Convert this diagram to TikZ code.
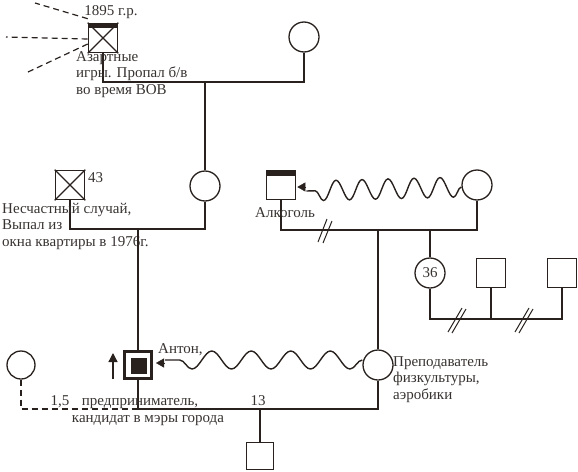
\documentclass[tikz,border=0pt]{standalone}
\usepackage{fontspec}
\setmainfont{Liberation Serif}
\usetikzlibrary{arrows.meta,decorations.pathmorphing,calc}
\definecolor{ln}{RGB}{40,33,30}
\definecolor{tx}{RGB}{55,50,48}
\begin{document}
\begin{tikzpicture}[x=1pt,y=-1pt,
  every node/.style={font=\fontsize{15}{16.5}\selectfont, text=tx},
  male/.style={draw=ln, line width=1.6pt, minimum size=29pt, inner sep=0pt, shape=rectangle},
  female/.style={draw=ln, line width=1.3pt, minimum size=30pt, inner sep=0pt, shape=circle},
  rel/.style={draw=ln, line width=1.3pt},
  dsh/.style={draw=ln, line width=1.2pt, dash pattern=on 6pt off 4pt},
  wave/.style={draw=ln, line width=1.4pt, decorate},
  lbl/.style={inner sep=0pt, align=left}
]
\useasboundingbox (0,0) rectangle (578,471);

% generation 1
\node[male] (g1) at (103,38) {};
\fill[ln] (g1.north west) rectangle ([yshift=-5pt]g1.north east);
\draw[ln, line width=1.3pt] (g1.north west) -- (g1.south east) (g1.north east) -- (g1.south west);
\node[female] (g2) at (304,37) {};
\coordinate (m1) at (205,82);
\draw[rel] (g1.south) |- (m1) -| (g2.south);

\draw[dsh] ([yshift=4pt]g1.north west) -- (35,3);
\draw[dsh] ([yshift=-1pt]g1.west) -- (6,37);
\draw[dsh] ([yshift=-6pt]g1.west) -- (28,72);

\node[lbl, anchor=base] at (111,15) {1895 г.р.};
\node[lbl, anchor=north west] (t1) at (76,51) {Азартные\\игры. Пропал б/в\\во время ВОВ};

% generation 2 left
\node[male] (u) at (70,185) {};
\draw[ln, line width=1.3pt] (u.north west) -- (u.south east) (u.north east) -- (u.south west);
\node[female] (f) at (205,186) {};
\draw[rel] (m1) -- (f.north);
\coordinate (m2) at (138,229);
\draw[rel] (u.south) |- (m2) -| (f.south);
\node[lbl, anchor=west] at (88,178) {43};
\node[lbl, anchor=north west] at (2,203) {Несчастный случай,\\Выпал из\\окна квартиры в 1976г.};

% generation 2 right
\node[male] (a) at (281,185) {};
\fill[ln] (a.north west) rectangle ([yshift=-6pt]a.north east);
\node[female] (w) at (477,185) {};
\coordinate (m3) at (378,230);
\coordinate (m4) at (430,230);
\draw[rel] (a.south) |- (m3) -| (w.south);
\draw[ln, line width=1pt] (318,242) -- (327,219) (323,243) -- (332,221);
\coordinate (wa) at ([xshift=10pt,yshift=-2pt]a.east);
\draw[wave, decoration={snake, amplitude=10pt, segment length=26pt}] ([yshift=-2pt]w.west) -- ([yshift=-4pt]wa);
\draw[ln, -{Triangle[length=8pt,width=9pt]}] (wa) -- ([xshift=1pt,yshift=-2pt]a.east);
\node[lbl, anchor=base west] at (255,217) {Алкоголь};

% 36 and children
\node[female] (d) at (430,273) {36};
\draw[rel] (m4) -- (d.north);
\node[male] (s1) at (491,273) {};
\node[male] (s2) at (562,273) {};
\coordinate (sb) at (430,319);
\draw[rel] (d.south) -- (sb) -| (s2.south);
\draw[rel] (s1.south) -- (s1.south |- sb);
\draw[ln, line width=1pt] (448,332) -- (462,308) (452,333) -- (466,309);
\draw[ln, line width=1pt] (515,332) -- (529,308) (519,333) -- (533,309);

% generation 3
\node[male, line width=3pt, minimum size=27pt] (anton) at (138,365) {};
\fill[ln] (131,358) rectangle (147,374);
\draw[rel] (m2) -- (anton.north);
\node[female] (p) at (378,365) {};
\draw[rel] (m3) -- (p.north);
\coordinate (m5) at (260,409);
\draw[rel] (anton.south) |- (m5) -| (p.south);
\coordinate (aw) at ([xshift=12pt,yshift=2pt]anton.east);
\draw[wave, decoration={snake, amplitude=9pt, segment length=39.5pt}] ([yshift=5pt]p.west) -- ([yshift=3pt]aw);
\draw[ln, -{Triangle[length=8pt,width=9pt]}] (aw) -- ([xshift=3pt,yshift=2pt]anton.east);
\draw[ln, line width=1.3pt, -{Triangle[length=9pt,width=9pt]}] (113,379) -- (113,353);

\node[female, minimum size=28pt] (l) at (21,365) {};
\draw[dsh] (l.south) |- (anton.south |- m5);

\node[male, minimum size=27pt] (c) at (260,456) {};
\draw[rel] (m5) -- (c.north);

\node[lbl, anchor=base west] at (158,353) {Антон,};
\node[lbl, anchor=base] at (60,405) {1,5};
\node[lbl, anchor=base] at (140,405) {предприниматель,};
\node[lbl, anchor=base] at (148,422) {кандидат в мэры города};
\node[lbl, anchor=base] at (258,405) {13};
\node[lbl, anchor=north west] at (393,356) {Преподаватель\\физкультуры,\\аэробики};
\end{tikzpicture}
\end{document}
